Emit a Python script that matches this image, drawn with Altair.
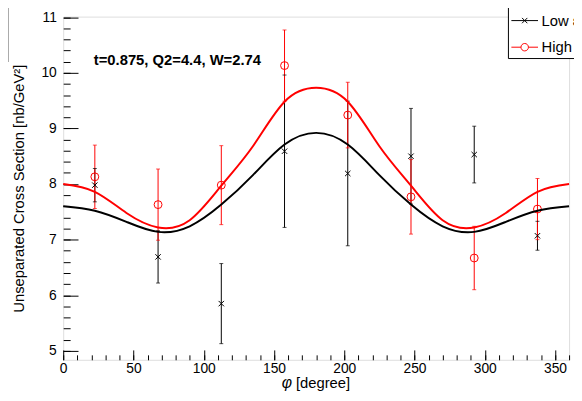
import altair as alt
import pandas as pd

# ---- data ----
phi = [22.5, 67.5, 112.5, 157.5, 202.5, 247.5, 292.5, 337.5]
low_val = [7.98, 6.69, 5.85, 8.59, 8.19, 8.50, 8.53, 7.07]
low_err = [0.30, 0.47, 0.72, 1.37, 1.30, 0.86, 0.51, 0.26]
high_val = [8.13, 7.63, 7.98, 10.13, 9.24, 7.77, 6.67, 7.55]
high_err = [0.57, 0.64, 0.71, 0.64, 0.59, 0.67, 0.57, 0.55]

curve_phi = [0, 22.5, 45, 67.5, 90, 112.5, 135, 157.5, 180,
             202.5, 225, 247.5, 270, 292.5, 315, 337.5, 360]
curve_low = [7.60, 7.52, 7.32, 7.14, 7.24, 7.63, 8.16, 8.71, 8.92,
             8.71, 8.16, 7.63, 7.24, 7.14, 7.32, 7.52, 7.60]
curve_high = [8.00, 7.86, 7.48, 7.22, 7.35, 7.97, 8.68, 9.48, 9.73,
              9.48, 8.68, 7.97, 7.35, 7.22, 7.48, 7.86, 8.00]

series_names = ["Low \u03b5", "High \u03b5"]
series_colors = ["#000000", "#ff0000"]

x_major = [0, 50, 100, 150, 200, 250, 300, 350]
x_minor = [10 * i for i in range(37)]
y_major = [5, 6, 7, 8, 9, 10, 11]
y_minor = [round(5 + 0.2 * i, 1) for i in range(31)]

info_text = "t=0.875, Q2=4.4, W=2.74"
y_title = "Unseparated Cross Section [nb/GeV\u00b2]"

FONT = "Liberation Sans"
W, H = 513, 348

low_df = pd.DataFrame({"phi": phi, "val": low_val, "err": low_err})
low_df["lo"] = low_df["val"] - low_df["err"]
low_df["hi"] = low_df["val"] + low_df["err"]
high_df = pd.DataFrame({"phi": phi, "val": high_val, "err": high_err})
high_df["lo"] = high_df["val"] - high_df["err"]
high_df["hi"] = high_df["val"] + high_df["err"]
curves = pd.DataFrame({"phi": curve_phi, "low": curve_low, "high": curve_high})

XS = alt.Scale(domain=[0, 360], nice=False, zero=False)
YS = alt.Scale(domain=[4.84, 11.01], nice=False, zero=False)

NOAX = None


def xenc(field, axis=NOAX):
    return alt.X(field, type="quantitative", scale=XS, axis=axis, title=None)


def yenc(field, axis=NOAX):
    return alt.Y(field, type="quantitative", scale=YS, axis=axis, title=None)


ax_x_labels = alt.Axis(orient="bottom", values=x_major, ticks=False, tickSize=0,
                       domain=False, grid=False, labelFont=FONT, labelFontSize=14,
                       labelColor="black", labelPadding=2, labelFlush=False,
                       labelOverlap=False, labelBound=False, title=None)
ax_x_major = alt.Axis(orient="top", offset=-H, values=x_major, tickSize=10,
                      tickColor="black", domain=False, grid=False, labels=False, title=None)
ax_x_minor = alt.Axis(orient="top", offset=-H, values=x_minor, tickSize=5,
                      tickColor="black", domain=False, grid=False, labels=False, title=None)

ax_y_labels = alt.Axis(orient="left", values=y_major, ticks=False, tickSize=0,
                       domain=False, grid=False, labelFont=FONT, labelFontSize=14,
                       labelColor="black", labelPadding=7, labelOverlap=False,
                       labelBound=False, labelFlush=False,
                       title=y_title, titleFont=FONT, titleFontSize=15,
                       titleFontWeight="normal", titleColor="black",
                       titleAngle=270, titleX=-40, titleY=H / 2,
                       titleAlign="center", titleBaseline="alphabetic")
ax_y_major = alt.Axis(orient="right", offset=-W, values=y_major, tickSize=15,
                      tickColor="black", domain=False, grid=False, labels=False, title=None)
ax_y_minor = alt.Axis(orient="right", offset=-W, values=y_minor, tickSize=7,
                      tickColor="black", domain=False, grid=False, labels=False, title=None)

# error bars
low_bars = alt.Chart(low_df).mark_rule(color="black", strokeWidth=1).encode(
    x=xenc("phi", ax_x_minor), y=yenc("lo", ax_y_minor), y2="hi")
high_bars = alt.Chart(high_df).mark_rule(color="#ff0000", strokeWidth=1).encode(
    x=xenc("phi"), y=yenc("lo"), y2="hi")
low_cap1 = alt.Chart(low_df).mark_tick(color="black", size=4, thickness=1,
                                       orient="horizontal").encode(x=xenc("phi"), y=yenc("lo"))
low_cap2 = alt.Chart(low_df).mark_tick(color="black", size=4, thickness=1,
                                       orient="horizontal").encode(x=xenc("phi"), y=yenc("hi"))
high_cap1 = alt.Chart(high_df).mark_tick(color="#ff0000", size=4, thickness=1,
                                         orient="horizontal").encode(x=xenc("phi"), y=yenc("lo"))
high_cap2 = alt.Chart(high_df).mark_tick(color="#ff0000", size=4, thickness=1,
                                         orient="horizontal").encode(x=xenc("phi"), y=yenc("hi"))

# markers
low_pts = alt.Chart(low_df).mark_point(shape="M-1,-1L1,1M-1,1L1,-1", size=30, filled=False,
                                       color="black", strokeWidth=1, opacity=1).encode(
    x=xenc("phi"), y=yenc("val"))
high_pts = alt.Chart(high_df).mark_point(shape="circle", size=64, filled=False,
                                         color="#ff0000", strokeWidth=1, opacity=1).encode(
    x=xenc("phi"), y=yenc("val"))

# fit curves
low_line = alt.Chart(curves).mark_line(color="black", strokeWidth=2,
                                       interpolate="natural").encode(
    x=xenc("phi", ax_x_labels), y=yenc("low", ax_y_labels))
high_line = alt.Chart(curves).mark_line(color="#ff0000", strokeWidth=2,
                                        interpolate="natural").encode(
    x=xenc("phi", ax_x_major), y=yenc("high", ax_y_major))

# info text
one = pd.DataFrame({"t": [info_text]})
info = alt.Chart(one).mark_text(font=FONT, fontSize=15, fontWeight="bold", align="left",
                                baseline="alphabetic", color="black").encode(
    x=alt.value(31), y=alt.value(49), text="t:N")

# x title (italic phi + text)
phi_df = pd.DataFrame({"t": ["\u03c6"]})
deg_df = pd.DataFrame({"t": ["[degree]"]})
xt1 = alt.Chart(phi_df).mark_text(font=FONT, fontSize=16, fontStyle="italic", align="right",
                                  baseline="alphabetic", color="black").encode(
    x=alt.value(232), y=alt.value(377), text="t:N")
xt2 = alt.Chart(deg_df).mark_text(font=FONT, fontSize=15, align="left",
                                  baseline="alphabetic", color="black").encode(
    x=alt.value(236), y=alt.value(377), text="t:N")

# partially visible box at the left edge
box_df = pd.DataFrame({"k": [0]})
box = alt.Chart(box_df).mark_rect(fill="white", stroke="#555555", strokeWidth=1).encode(
    x=alt.value(-90), x2=alt.value(-56), y=alt.value(-9), y2=alt.value(46))

# legend layer (clipped away marks, legend only)
leg_df = pd.DataFrame({"series": series_names})
path_low = "M-1,0H1M-0.2,-0.2L0.2,0.2M-0.2,0.2L0.2,-0.2"
path_high = "M-1,0H-0.28M0.28,0H1M-0.28,0A0.28,0.28 0 1,0 0.28,0A0.28,0.28 0 1,0 -0.28,0"
LEG = dict(orient="none", legendX=451, legendY=-13, title=None,
           labelFont=FONT, labelFontSize=15, labelColor="black",
           fillColor="white", strokeColor="black",
           padding=3, rowPadding=5, labelOffset=3,
           symbolSize=729, symbolStrokeWidth=1, labelLimit=300)
legend_layer = alt.Chart(leg_df).mark_point(filled=False, clip=True, strokeWidth=1,
                                            opacity=1).encode(
    x=alt.value(-300), y=alt.value(-300),
    color=alt.Color("series:N", scale=alt.Scale(domain=series_names, range=series_colors),
                    legend=alt.Legend(**LEG)),
    shape=alt.Shape("series:N", scale=alt.Scale(domain=series_names,
                                                range=[path_low, path_high]),
                    legend=alt.Legend(**LEG)))

chart = alt.layer(
    low_bars, high_bars, low_cap1, low_cap2, high_cap1, high_cap2,
    low_pts, high_pts, low_line, high_line, info, xt1, xt2, box, legend_layer
).resolve_axis(x="independent", y="independent").properties(
    width=W, height=H,
    autosize=alt.AutoSizeParams(type="none"),
    padding={"left": 56, "top": 6, "right": 5, "bottom": 36},
).configure_view(stroke="black", strokeWidth=1).configure(background="white")

chart.save("out.html", embed_options={"renderer": "svg", "actions": False})
